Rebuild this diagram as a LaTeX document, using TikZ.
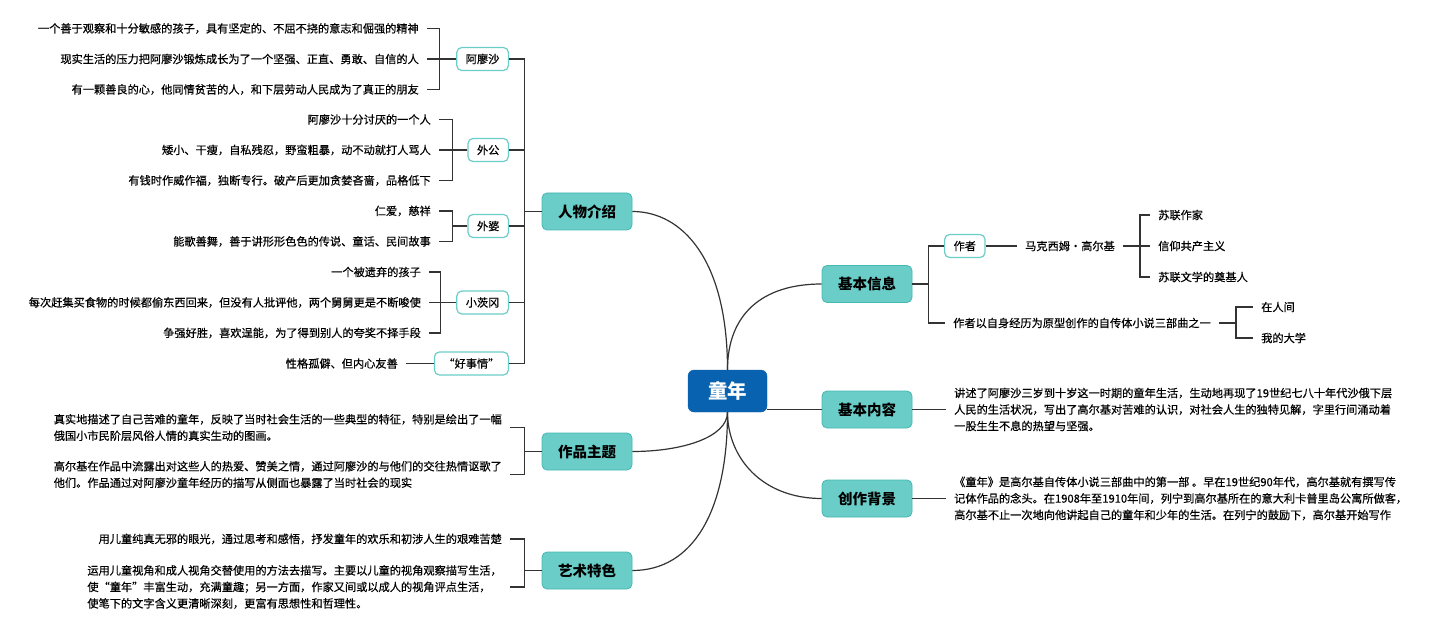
\documentclass[tikz,border=0pt]{standalone}
\usepackage{fontspec}
\setmainfont{Noto Sans CJK SC}
\newfontfamily\leaffont{Noto Sans CJK SC}[FakeBold=0.5]
\usetikzlibrary{positioning, calc}
\definecolor{rootblue}{HTML}{0862B0}
\definecolor{topicfill}{HTML}{6ACDC8}
\definecolor{topicline}{HTML}{45B8B3}
\definecolor{linegray}{HTML}{333333}
\tikzstyle{root} = [rectangle, fill=rootblue, draw=rootblue, text=white,
    rounded corners=6pt, minimum width=79pt, minimum height=42pt,
    font=\fontsize{19.5}{22}\selectfont\bfseries]
\tikzstyle{topic} = [rectangle, fill=topicfill, draw=topicline, line width=0.8pt,
    rounded corners=5pt, minimum width=90pt, minimum height=37pt,
    font=\fontsize{14.5}{17}\selectfont\bfseries]
\tikzstyle{sub} = [rectangle, fill=white, draw=topicfill, line width=1.2pt,
    rounded corners=5pt, minimum height=23pt, inner xsep=9pt, anchor=east,
    font=\leaffont\fontsize{11.2}{14}\selectfont]
\tikzstyle{leaf} = [inner xsep=8pt, inner ysep=1pt, align=left,
    font=\leaffont\fontsize{11.2}{16.5}\selectfont]
\tikzstyle{link} = [draw=linegray, line width=1.2pt]

\begin{document}
\begin{tikzpicture}[x=1pt, y=-1pt]
    \useasboundingbox (0,0) rectangle (1440,631);
    % Center and main topics
    \node[root] (root) at (727.5,391) {童年};
    \node[topic] (people) at (587,211.5) {人物介绍};
    \node[topic] (theme) at (587,451.5) {作品主题};
    \node[topic] (art) at (587,570.5) {艺术特色};
    \node[topic] (info) at (867,284) {基本信息};
    \node[topic] (content) at (867,409.5) {基本内容};
    \node[topic] (backg) at (867,498.5) {创作背景};

    \draw[link] (root.north) .. controls +(0,-110) and +(50,0) .. (people.east);
    \draw[link] (root.north) .. controls +(0,-55) and +(-60,0) .. (info.west);
    \draw[link] (root.east |- content.west) -- (content.west);
    \draw[link] (root.south) .. controls +(0,25) and +(50,0) .. (theme.east);
    \draw[link] (root.south) .. controls +(0,100) and +(60,0) .. (art.east);
    \draw[link] (root.south) .. controls +(0,45) and +(-60,0) .. (backg.west);

    % Characters
    \node[sub] (alx) at (509,59) {阿廖沙};
    \node[sub] (wg) at (509,150) {外公};
    \node[sub] (wp) at (509,226) {外婆};
    \node[sub] (xcg) at (509,302.5) {小茨冈};
    \node[sub] (hsq) at (509,363.5) {“好事情”};
    \foreach \b in {alx,wg,wp,xcg,hsq}
        \draw[link] (people.west) -- ++(-17,0) |- (\b.east);

    \node[leaf, anchor=east] (al1) at (427,28.5) {一个善于观察和十分敏感的孩子，具有坚定的、不屈不挠的意志和倔强的精神};
    \node[leaf, anchor=east] (al2) at (427,59) {现实生活的压力把阿廖沙锻炼成长为了一个坚强、正直、勇敢、自信的人};
    \node[leaf, anchor=east] (al3) at (427,89.5) {有一颗善良的心，他同情贫苦的人，和下层劳动人民成为了真正的朋友};
    \foreach \l in {al1,al2,al3}
        \draw[link] (alx.west) -- ++(-17,0) |- (\l.east);

    \node[leaf, anchor=east] (wg1) at (439,119.5) {阿廖沙十分讨厌的一个人};
    \node[leaf, anchor=east] (wg2) at (439,150) {矮小、干瘦，自私残忍，野蛮粗暴，动不动就打人骂人};
    \node[leaf, anchor=east] (wg3) at (439,180.5) {有钱时作威作福，独断专行。破产后更加贪婪吝啬，品格低下};
    \foreach \l in {wg1,wg2,wg3}
        \draw[link] (wg.west) -- ++(-15,0) |- (\l.east);

    \node[leaf, anchor=east] (wp1) at (439,211) {仁爱，慈祥};
    \node[leaf, anchor=east] (wp2) at (439,241.5) {能歌善舞，善于讲形形色色的传说、童话、民间故事};
    \foreach \l in {wp1,wp2}
        \draw[link] (wp.west) -- ++(-15,0) |- (\l.east);

    \node[leaf, anchor=east] (xc1) at (429,272) {一个被遗弃的孩子};
    \node[leaf, anchor=east] (xc2) at (429,302.5) {每次赶集买食物的时候都偷东西回来，但没有人批评他，两个舅舅更是不断唆使};
    \node[leaf, anchor=east] (xc3) at (429,333) {争强好胜，喜欢逞能，为了得到别人的夸奖不择手段};
    \foreach \l in {xc1,xc2,xc3}
        \draw[link] (xcg.west) -- ++(-16,0) |- (\l.east);

    \node[leaf, anchor=east] (hs1) at (406,363.5) {性格孤僻、但内心友善};
    \draw[link] (hs1.east) -- (hsq.west);

    % Theme and art
    \node[leaf, anchor=east] (th1) at (510,427.5) {真实地描述了自己苦难的童年，反映了当时社会生活的一些典型的特征，特别是绘出了一幅\\俄国小市民阶层风俗人情的真实生动的图画。};
    \node[leaf, anchor=east] (th2) at (510,474.5) {高尔基在作品中流露出对这些人的热爱、赞美之情，通过阿廖沙的与他们的交往热情讴歌了\\他们。作品通过对阿廖沙童年经历的描写从侧面也暴露了当时社会的现实};
    \foreach \l in {th1,th2}
        \draw[link] (theme.west) -- ++(-17,0) |- (\l.east);

    \node[leaf, anchor=east] (ar1) at (510,539) {用儿童纯真无邪的眼光，通过思考和感悟，抒发童年的欢乐和初涉人生的艰难苦楚};
    \node[leaf, anchor=east] (ar2) at (510,587) {运用儿童视角和成人视角交替使用的方法去描写。主要以儿童的视角观察描写生活，\\使“童年”丰富生动，充满童趣；另一方面，作家又间或以成人的视角评点生活，\\使笔下的文字含义更清晰深刻，更富有思想性和哲理性。};
    \foreach \l in {ar1,ar2}
        \draw[link] (art.west) -- ++(-17,0) |- (\l.east);

    % Basic info
    \node[sub, anchor=west] (author) at (944,246) {作者};
    \node[leaf, anchor=west] (gorky) at (1017,246) {马克西姆·高尔基};
    \node[leaf, anchor=west] (trilogy) at (945,323) {作者以自身经历为原型创作的自传体小说三部曲之一};
    \draw[link] (info.east) -- ++(16,0) |- (author.west);
    \draw[link] (info.east) -- ++(16,0) |- (trilogy.west);
    \draw[link] (author.east) -- (gorky.west);

    \node[leaf, anchor=west] (g1) at (1150,215) {苏联作家};
    \node[leaf, anchor=west] (g2) at (1150,246) {信仰共产主义};
    \node[leaf, anchor=west] (g3) at (1150,277) {苏联文学的奠基人};
    \foreach \l in {g1,g2,g3}
        \draw[link] (gorky.east) -- ++(17,0) |- (\l.west);

    \node[leaf, anchor=west] (t1) at (1253,307) {在人间};
    \node[leaf, anchor=west] (t2) at (1253,338) {我的大学};
    \foreach \l in {t1,t2}
        \draw[link] (trilogy.east) -- ++(17,0) |- (\l.west);

    % Content and background
    \node[leaf, anchor=west] (ctext) at (946,409.5) {讲述了阿廖沙三岁到十岁这一时期的童年生活，生动地再现了19世纪七八十年代沙俄下层\\人民的生活状况，写出了高尔基对苦难的认识，对社会人生的独特见解，字里行间涌动着\\一股生生不息的热望与坚强。};
    \draw[link] (content.east) -- (ctext.west);

    \node[leaf, anchor=west] (btext) at (946,498.5) {《童年》是高尔基自传体小说三部曲中的第一部 。早在19世纪90年代，高尔基就有撰写传\\记体作品的念头。在1908年至1910年间，列宁到高尔基所在的意大利卡普里岛公寓所做客，\\高尔基不止一次地向他讲起自己的童年和少年的生活。在列宁的鼓励下，高尔基开始写作};
    \draw[link] (backg.east) -- (btext.west);
\end{tikzpicture}
\end{document}
